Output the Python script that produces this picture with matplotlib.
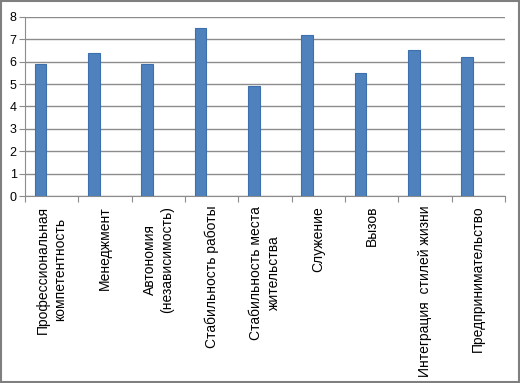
import numpy as np
import matplotlib.pyplot as plt

plt.rcParams['font.family'] = ['Liberation Sans', 'DejaVu Sans']

categories = ['Профессиональная\nкомпетентность', 'Менеджмент',
              'Автономия\n(независимость)', 'Стабильность работы',
              'Стабильность места\nжительства', 'Служение', 'Вызов',
              'Интеграция  стилей жизни', 'Предпринимательство']
values = [5.9, 6.4, 5.9, 7.5, 4.9, 7.2, 5.5, 6.5, 6.2]
yticks = [0, 1, 2, 3, 4, 5, 6, 7, 8]

fig = plt.figure(figsize=(5.2, 3.83), dpi=100)
ax = fig.add_axes([0.048, 0.488, 0.923, 0.468])

x = np.arange(len(values))
ax.bar(x + 0.29, values, width=0.22, color='#4F81BD', edgecolor='#3C6FAE',
       linewidth=0.8, zorder=3)

ax.set_xlim(0, len(values))
ax.set_ylim(0, 8)
ax.set_yticks(yticks)
ax.yaxis.grid(True, color='#8C8C8C', linewidth=1.0, zorder=0)

ax.set_xticks(np.arange(len(values) + 1))
ax.set_xticklabels([])
ax.set_xticks(x + 0.5, minor=True)
ax.set_xticklabels(categories, minor=True, rotation=90, ha='center', va='top',
                   multialignment='center', fontsize=10, linespacing=1.3)
ax.tick_params(axis='x', which='minor', length=0, pad=7)
ax.tick_params(axis='x', which='major', length=4, color='#8C8C8C')
ax.tick_params(axis='y', length=4, color='#8C8C8C', labelsize=9, pad=2)

for s in ['top', 'right']:
    ax.spines[s].set_visible(False)
for s in ['left', 'bottom']:
    ax.spines[s].set_color('#8C8C8C')

fig.patches.append(plt.Rectangle((0.002, 0.002), 0.996, 0.996, transform=fig.transFigure,
                                 fill=False, edgecolor='#7F7F7F', linewidth=1.5))

fig.savefig('out.png', dpi=100)
